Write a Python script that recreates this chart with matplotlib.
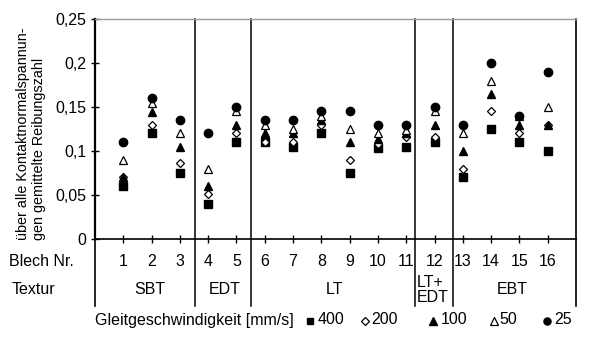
import matplotlib
matplotlib.use("Agg")
import matplotlib.pyplot as plt
from matplotlib.lines import Line2D

plt.rcParams['font.family'] = ['Liberation Sans', 'DejaVu Sans']
plt.rcParams['font.size'] = 11.5

# Sheet numbers and texture groups
blech = list(range(1, 17))
texturen = ['SBT', 'EDT', 'LT', 'LT+\nEDT', 'EBT']
grenzen = [3.55, 5.52, 11.31, 12.67]          # group separators on the sheet axis
textur_pos = [1.93, 4.6, 8.45, 11.38, 14.75]  # label positions of the groups

# Friction coefficient averaged over all contact normal stresses, per sliding speed
speeds = ['400', '200', '100', '50', '25']
mu_400 = [0.060, 0.120, 0.075, 0.040, 0.110, 0.110, 0.105, 0.120, 0.075, 0.103, 0.104, 0.110, 0.070, 0.125, 0.110, 0.100]
mu_200 = [0.070, 0.130, 0.086, 0.051, 0.120, 0.110, 0.110, 0.130, 0.090, 0.108, 0.116, 0.116, 0.080, 0.145, 0.120, 0.130]
mu_100 = [0.070, 0.144, 0.105, 0.060, 0.130, 0.120, 0.120, 0.135, 0.110, 0.114, 0.120, 0.130, 0.100, 0.165, 0.130, 0.130]
mu_50 = [0.090, 0.154, 0.120, 0.080, 0.145, 0.130, 0.125, 0.140, 0.125, 0.120, 0.124, 0.145, 0.120, 0.180, 0.140, 0.150]
mu_25 = [0.110, 0.160, 0.135, 0.120, 0.150, 0.135, 0.135, 0.145, 0.145, 0.130, 0.130, 0.150, 0.130, 0.200, 0.140, 0.190]

y_ticks = [0, 0.05, 0.1, 0.15, 0.2, 0.25]
y_ticklabels = ['0', '0,05', '0,1', '0,15', '0,2', '0,25']

styles = [
    dict(marker='s', ms=5.4, mfc='black', mec='black'),
    dict(marker='D', ms=4.5, mfc='white', mec='black', mew=0.9),
    dict(marker='^', ms=6.2, mfc='black', mec='black'),
    dict(marker='^', ms=6.2, mfc='white', mec='black', mew=0.9),
    dict(marker='o', ms=6.0, mfc='black', mec='black'),
]
series = [mu_400, mu_200, mu_100, mu_50, mu_25]

W, H = 592, 339
fig = plt.figure(figsize=(W / 100, H / 100), dpi=100)
ax = fig.add_axes([95 / W, 1 - 239 / H, 481 / W, 220 / H])

for vals, st in zip(series, styles):
    ax.plot(blech, vals, linestyle='none', **st, zorder=3)

ax.set_xlim(0, 17)
ax.set_ylim(0, 0.25)
ax.set_yticks(y_ticks)
ax.set_yticklabels(y_ticklabels)
ax.set_xticks(blech)
ax.set_xticklabels([])
ax.tick_params(axis='both', direction='inout', length=6, width=1.0, color='black')
ax.tick_params(axis='y', pad=3)

ax.spines['top'].set_color('#9a9a9a')
ax.spines['top'].set_linewidth(1.0)
ax.spines['left'].set_linewidth(1.6)
ax.spines['bottom'].set_linewidth(1.2)
ax.spines['right'].set_linewidth(1.2)

xt = ax.get_xaxis_transform()
row_bottom = (239 - 306) / 220
# Group separators, extending into the table below the axis
for b in grenzen:
    ax.plot([b, b], [row_bottom, 1], transform=xt, color='black', lw=1.1, clip_on=False)
for b in (0, 17):
    ax.plot([b, b], [row_bottom, 0], transform=xt, color='black', lw=1.2, clip_on=False)

# Table rows: sheet number and texture
for n in blech:
    ax.text(n, (239 - 261) / 220, str(n), transform=xt, ha='center', va='center')
for t, x in zip(texturen, textur_pos):
    if '\n' in t:
        ax.text(x, (239 - 290) / 220, t, transform=xt, ha='left', va='center', linespacing=1.05)
    else:
        ax.text(x, (239 - 289) / 220, t, transform=xt, ha='center', va='center')

fig.text(9 / W, 1 - 261 / H, 'Blech Nr.', ha='left', va='center')
fig.text(12 / W, 1 - 289 / H, 'Textur', ha='left', va='center')

fig.text(31 / W, 1 - 240 / H, 'über alle Kontaktnormalspannun-\ngen gemittelte Reibungszahl',
         rotation=90, ha='center', va='bottom', multialignment='left', linespacing=1.1,
         fontsize=10.4)

# Legend row
fig.text(95 / W, 1 - 320 / H, 'Gleitgeschwindigkeit [mm/s]', ha='left', va='center')
leg_marker_x = [310, 365, 433, 494, 547]
leg_text_x = [318, 371, 441, 499, 554]
for lab, st, mx, tx in zip(speeds, styles, leg_marker_x, leg_text_x):
    s = dict(st)
    s['ms'] = s['ms'] * 0.85
    fig.add_artist(Line2D([mx / W], [1 - 321 / H], linestyle='none', transform=fig.transFigure, **s))
    fig.text(tx / W, 1 - 320 / H, lab, ha='left', va='center')

fig.savefig('out.png', dpi=100, facecolor='white')
